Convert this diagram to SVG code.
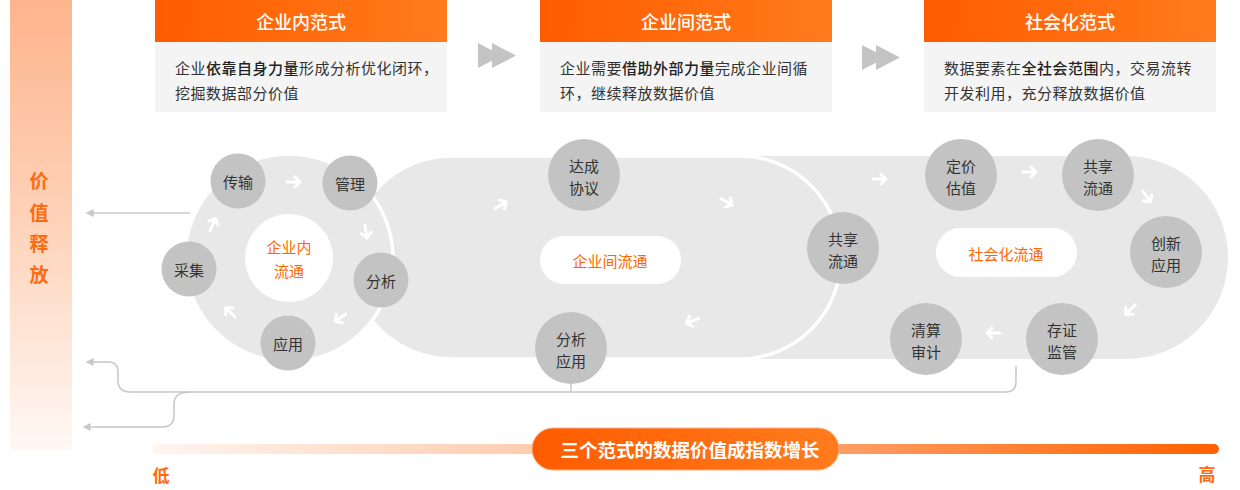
<svg xmlns="http://www.w3.org/2000/svg" width="1240" height="490" viewBox="0 0 1240 490">
<defs>
<linearGradient id="gLeft" x1="0" y1="0" x2="0" y2="1">
<stop offset="0" stop-color="#fdb48c"/>
<stop offset="0.5" stop-color="#fed3ba"/>
<stop offset="1" stop-color="#fff8f4"/>
</linearGradient>
<linearGradient id="gHead" x1="0" y1="0" x2="1" y2="0">
<stop offset="0" stop-color="#ff5c00"/>
<stop offset="1" stop-color="#ff7b1c"/>
</linearGradient>
<linearGradient id="gBar" x1="0" y1="0" x2="1" y2="0">
<stop offset="0" stop-color="#fff5ef"/>
<stop offset="0.4" stop-color="#fdc8a8"/>
<stop offset="1" stop-color="#ff6000"/>
</linearGradient>
<marker id="ah" viewBox="0 0 10 10" refX="2" refY="5" markerWidth="8" markerHeight="8" markerUnits="userSpaceOnUse" orient="auto">
<path d="M10,0 L10,10 L0,5 Z" fill="#c8c8c8" transform="rotate(180 5 5)"/>
</marker>
<path id="wa" d="M-7,0 H6 M1,-5 L6,0 L1,5" stroke="#ffffff" stroke-width="3" fill="none" stroke-linecap="round" stroke-linejoin="round"/>
<path id="tri" d="M0,0 L24,12.5 L0,25 Z" fill="#c4c4c4"/>
</defs>
<style>
text{font-family:"Noto Sans CJK SC","Noto Sans",sans-serif;}
.title{fill:#ffffff;font-size:18px;font-weight:500;text-anchor:middle;dominant-baseline:central;}
.body{fill:#333333;font-size:15px;letter-spacing:0.5px;dominant-baseline:central;}
.b{font-weight:500;fill:#222222;}
.hdr{fill:url(#gHead);}
.bg{fill:#f4f4f4;}
.node circle{fill:#c3c3c3;}
.nt{fill:#333333;font-size:15px;text-anchor:middle;dominant-baseline:central;}
.ot{fill:#ff6600;font-size:15px;text-anchor:middle;dominant-baseline:central;}
.lane{fill:#e8e8e8;stroke:#ffffff;stroke-width:3.5;}
.conn{fill:none;stroke:#c8c8c8;stroke-width:1.5;}
.side{fill:#ff6a10;font-size:19px;font-weight:700;text-anchor:middle;dominant-baseline:central;}
</style>

<!-- left value bar -->
<g id="value-bar">
<rect x="10" y="0" width="62" height="450" fill="url(#gLeft)"/>
<text class="side" x="39" y="179">价</text>
<text class="side" x="39" y="211">值</text>
<text class="side" x="39" y="242">释</text>
<text class="side" x="39" y="273">放</text>
</g>

<!-- headers -->
<g id="paradigm-1">
<rect class="bg" x="155" y="42" width="292" height="70"/>
<rect class="hdr" x="155" y="0" width="292" height="42"/>
<text class="title" x="301" y="21">企业内范式</text>
<text class="body" x="175" y="67">企业<tspan class="b">依靠自身力量</tspan>形成分析优化闭环，</text>
<text class="body" x="175" y="92">挖掘数据部分价值</text>
</g>
<g id="paradigm-2">
<rect class="bg" x="540" y="42" width="292" height="70"/>
<rect class="hdr" x="540" y="0" width="292" height="42"/>
<text class="title" x="686" y="21">企业间范式</text>
<text class="body" x="560" y="67">企业需要<tspan class="b">借助外部力量</tspan>完成企业间循</text>
<text class="body" x="560" y="92">环，继续释放数据价值</text>
</g>
<g id="paradigm-3">
<rect class="bg" x="924" y="42" width="292" height="70"/>
<rect class="hdr" x="924" y="0" width="292" height="42"/>
<text class="title" x="1070" y="21">社会化范式</text>
<text class="body" x="944" y="67">数据要素在<tspan class="b">全社会范围</tspan>内，交易流转</text>
<text class="body" x="944" y="92">开发利用，充分释放数据价值</text>
</g>
<g id="step-arrows">
<use href="#tri" x="478" y="43"/>
<use href="#tri" x="492" y="43"/>
<use href="#tri" x="862" y="45"/>
<use href="#tri" x="876" y="45"/>
</g>

<!-- lanes -->
<g id="lanes">
<rect x="500" y="156" width="728" height="203" rx="101.5" fill="#e8e8e8"/>
<rect class="lane" x="350" y="156" width="491" height="203" rx="101.5"/>
<circle class="lane" cx="289" cy="258" r="104"/>
<circle cx="289" cy="258" r="44" fill="#ffffff"/>
<rect x="540" y="236" width="141" height="48" rx="24" fill="#ffffff"/>
<rect x="936" y="228" width="141" height="49" rx="24.5" fill="#ffffff"/>
<text class="ot" x="289" y="246">企业内</text>
<text class="ot" x="289" y="270">流通</text>
<text class="ot" x="610" y="260">企业间流通</text>
<text class="ot" x="1006" y="253">社会化流通</text>
</g>

<!-- connectors -->
<g id="connectors">
<path class="conn" d="M190,213 H92" marker-end="url(#ah)"/>
<path class="conn" d="M1016,366 V382 Q1016,392 1006,392 H130 Q118,392 118,380 V372 Q118,362 108,362 H92" marker-end="url(#ah)"/>
<path class="conn" d="M190,392 Q174,392 174,404 V415 Q174,427 162,427 H89" marker-end="url(#ah)"/>
<path class="conn" d="M571,384 V392"/>
<g id="flow-arrows">
<use href="#wa" transform="translate(294,182)"/>
<use href="#wa" transform="translate(366,232) rotate(80)"/>
<use href="#wa" transform="translate(340,318) rotate(145)"/>
<use href="#wa" transform="translate(230,312) rotate(-135)"/>
<use href="#wa" transform="translate(213,224) rotate(-65)"/>
<use href="#wa" transform="translate(501,205) rotate(-30)"/>
<use href="#wa" transform="translate(727,202) rotate(30)"/>
<use href="#wa" transform="translate(692,321) rotate(160)"/>
<use href="#wa" transform="translate(880,179)"/>
<use href="#wa" transform="translate(1030,172)"/>
<use href="#wa" transform="translate(1147,197) rotate(55)"/>
<use href="#wa" transform="translate(1130,310) rotate(135)"/>
<use href="#wa" transform="translate(993,333) rotate(180)"/>
</g>
</g>

<!-- nodes -->
<g id="n-chuanshu" class="node"><circle cx="238" cy="181" r="27.5"/><text class="nt" x="238" y="181">传输</text></g>
<g id="n-guanli" class="node"><circle cx="350" cy="183" r="27.5"/><text class="nt" x="350" y="183">管理</text></g>
<g id="n-caiji" class="node"><circle cx="189" cy="269" r="27.5"/><text class="nt" x="189" y="269">采集</text></g>
<g id="n-fenxi" class="node"><circle cx="381" cy="280" r="27.5"/><text class="nt" x="381" y="280">分析</text></g>
<g id="n-yingyong" class="node"><circle cx="288" cy="343" r="27.5"/><text class="nt" x="288" y="343">应用</text></g>

<g id="n-dacheng" class="node"><circle cx="584" cy="175" r="36"/><text class="nt" x="584" y="165">达成</text><text class="nt" x="584" y="187">协议</text></g>
<g id="n-fenxiyy" class="node"><circle cx="571" cy="348" r="36"/><text class="nt" x="571" y="338">分析</text><text class="nt" x="571" y="360">应用</text></g>
<g id="n-gongxiang1" class="node"><circle cx="843" cy="248" r="36"/><text class="nt" x="843" y="238">共享</text><text class="nt" x="843" y="260">流通</text></g>

<g id="n-dingjia" class="node"><circle cx="961" cy="175" r="36"/><text class="nt" x="961" y="165">定价</text><text class="nt" x="961" y="187">估值</text></g>
<g id="n-gongxiang2" class="node"><circle cx="1098" cy="175" r="36"/><text class="nt" x="1098" y="165">共享</text><text class="nt" x="1098" y="187">流通</text></g>
<g id="n-chuangxin" class="node"><circle cx="1166" cy="252" r="36"/><text class="nt" x="1166" y="242">创新</text><text class="nt" x="1166" y="264">应用</text></g>
<g id="n-cunzheng" class="node"><circle cx="1062" cy="339" r="36"/><text class="nt" x="1062" y="329">存证</text><text class="nt" x="1062" y="351">监管</text></g>
<g id="n-qingsuan" class="node"><circle cx="926" cy="339" r="36"/><text class="nt" x="926" y="329">清算</text><text class="nt" x="926" y="351">审计</text></g>

<!-- growth bar -->
<g id="growth">
<rect x="152" y="444" width="1067" height="10" rx="5" fill="url(#gBar)"/>
<rect x="532" y="428" width="307" height="42" rx="21" fill="url(#gHead)" stroke="#ffb088" stroke-width="1"/>
<text x="690" y="449" fill="#ffffff" font-size="18.5" font-weight="700" text-anchor="middle" dominant-baseline="central">三个范式的数据价值成指数增长</text>
<text x="161" y="474" fill="#ff6a10" font-size="17" font-weight="700" text-anchor="middle" dominant-baseline="central">低</text>
<text x="1207" y="473" fill="#ff6a10" font-size="17" font-weight="700" text-anchor="middle" dominant-baseline="central">高</text>
</g>
</svg>
